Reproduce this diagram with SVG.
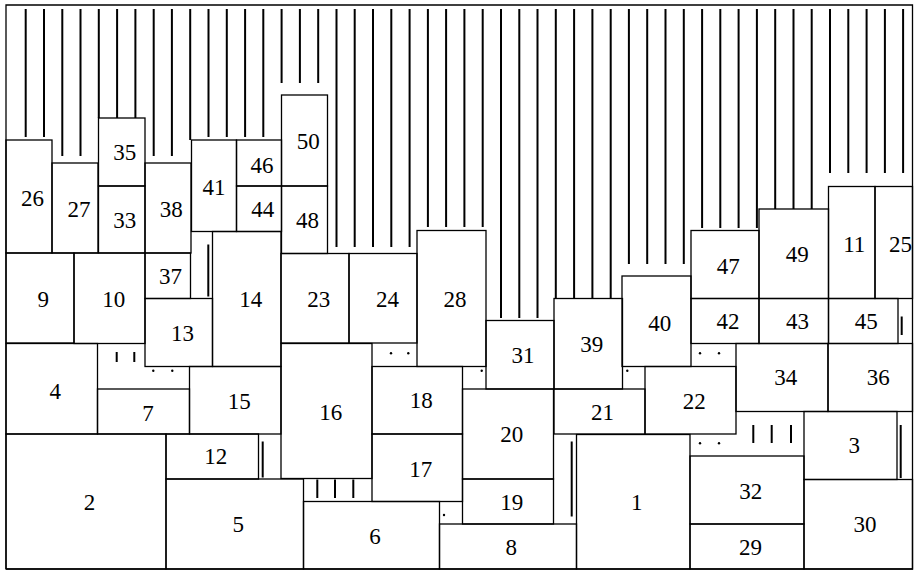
<svg xmlns="http://www.w3.org/2000/svg" width="914" height="572" viewBox="0 0 914 572">
<style>
.b{fill:none;stroke:#000;stroke-width:1.3}
.f{fill:none;stroke:#000;stroke-width:1.3}
.h{stroke:#000;stroke-width:2;fill:none}
.d{fill:#000}
.t{font-family:'Liberation Serif','DejaVu Serif',serif;font-size:23px;text-anchor:middle;fill:#000}
</style>
<rect width="914" height="572" fill="#fff"/>
<g id="frame">
<path class="f" d="M6,569 L6,5 L912.5,5 L912.5,569 L6,569"/>
</g>
<g id="waste">
<path class="h" d="M25.7,9V137M44,9V137M62.3,9V156M80.5,9V156M98.8,9V118M117.1,9V118M135.4,9V118M153.7,9V156M171.9,9V156M190.2,9V140M208.5,9V137M226.8,9V137M245.1,9V137M263.3,9V137M281.6,9V83M299.9,9V83M318.2,9V83M336.5,9V247M354.7,9V247M373,9V247M391.3,9V247M409.6,9V247M427.9,9V227M446.1,9V227M464.4,9V227M482.7,9V227M501,9V318M519.3,9V318M537.5,9V318M555.8,9V298.5M574.1,9V298.5M592.4,9V298.5M610.7,9V298.5M628.9,9V264M647.2,9V264M665.5,9V264M683.8,9V264M702.1,9V228M720.3,9V228M738.6,9V228M756.9,9V228M775.2,9V209M793.5,9V209M811.7,9V209M830,9V173M848.3,9V173M866.6,9V173M884.9,9V173M903.1,9V173"/>
<path class="h" d="M116.7,352V362M134.3,352V362M208.3,244.5V296.5M901.7,316.5V335M262.7,441.5V477.5M317.3,479.5V498M335,479.5V498M353.3,479.5V498M571.7,441.5V516.5M753.3,425V443M771.7,425V443M791,425V443M900.7,425V478"/>
<g class="d">
<circle cx="153.3" cy="370.7" r="1.2"/><circle cx="172.3" cy="370.7" r="1.2"/>
<circle cx="391" cy="353.3" r="1.2"/><circle cx="408.3" cy="353.3" r="1.2"/>
<circle cx="481.7" cy="370.7" r="1.2"/>
<circle cx="627.3" cy="370.7" r="1.2"/>
<circle cx="700" cy="353.3" r="1.2"/><circle cx="719" cy="353.3" r="1.2"/>
<circle cx="444" cy="515" r="1.2"/>
<circle cx="700" cy="443.3" r="1.2"/><circle cx="719" cy="443.3" r="1.2"/>
</g>
</g>
<g id="nodes" class="t">
<g id="n26"><rect class="b" x="6" y="140" width="46" height="113"/><text x="32.5" y="205.7">26</text></g>
<g id="n27"><rect class="b" x="52" y="163" width="46" height="90"/><text x="79" y="217">27</text></g>
<g id="n35"><rect class="b" x="98.5" y="118" width="46.5" height="68"/><text x="124.7" y="160">35</text></g>
<g id="n33"><rect class="b" x="98.5" y="186" width="46.5" height="67"/><text x="124.7" y="228">33</text></g>
<g id="n38"><rect class="b" x="145" y="163" width="46" height="90"/><text x="171.3" y="216.7">38</text></g>
<g id="n41"><rect class="b" x="191.5" y="140" width="45" height="91.5"/><text x="214" y="195">41</text></g>
<g id="n46"><rect class="b" x="236.5" y="140" width="45" height="46"/><text x="262" y="172.7">46</text></g>
<g id="n44"><rect class="b" x="236.5" y="186" width="45" height="45.5"/><text x="262.7" y="216.7">44</text></g>
<g id="n50"><rect class="b" x="281.5" y="95" width="46" height="91"/><text x="308.3" y="149">50</text></g>
<g id="n48"><rect class="b" x="281.5" y="186" width="46" height="67.5"/><text x="307.5" y="228.3">48</text></g>
<g id="n9"><rect class="b" x="6" y="253" width="68" height="90"/><text x="43.3" y="306.7">9</text></g>
<g id="n10"><rect class="b" x="74" y="253" width="71" height="90.5"/><text x="113.8" y="306.7">10</text></g>
<g id="n37"><rect class="b" x="145" y="253" width="45.5" height="45.5"/><text x="170.5" y="284">37</text></g>
<g id="n13"><rect class="b" x="145" y="298.5" width="67.5" height="68"/><text x="182.5" y="340.7">13</text></g>
<g id="n14"><rect class="b" x="212.5" y="231.5" width="68.5" height="135"/><text x="250.8" y="306.7">14</text></g>
<g id="n23"><rect class="b" x="281" y="253.5" width="68" height="89.5"/><text x="318.8" y="306.7">23</text></g>
<g id="n24"><rect class="b" x="349" y="253.5" width="68" height="89.5"/><text x="387.5" y="306.7">24</text></g>
<g id="n28"><rect class="b" x="417" y="230.5" width="69" height="136"/><text x="455" y="306.7">28</text></g>
<g id="n31"><rect class="b" x="486" y="320.5" width="68" height="68.5"/><text x="523" y="363.3">31</text></g>
<g id="n39"><rect class="b" x="554" y="298.5" width="68.5" height="90.5"/><text x="591.7" y="351.7">39</text></g>
<g id="n40"><rect class="b" x="622" y="276" width="69" height="90.5"/><text x="659.8" y="330.7">40</text></g>
<g id="n47"><rect class="b" x="691" y="230.5" width="68" height="68"/><text x="728.3" y="274.3">47</text></g>
<g id="n49"><rect class="b" x="759" y="209" width="69.5" height="89.5"/><text x="797.2" y="262.3">49</text></g>
<g id="n11"><rect class="b" x="828.5" y="186.5" width="46.5" height="112"/><text x="854.3" y="251.7">11</text></g>
<g id="n25"><rect class="b" x="875" y="186.5" width="37.5" height="112"/><text x="900.5" y="252">25</text></g>
<g id="n42"><rect class="b" x="691" y="298.5" width="68" height="45"/><text x="728" y="329">42</text></g>
<g id="n43"><rect class="b" x="759" y="298.5" width="69.5" height="45"/><text x="797.5" y="329">43</text></g>
<g id="n45"><rect class="b" x="828.5" y="298.5" width="69.5" height="45"/><text x="866.2" y="329">45</text></g>
<g id="n34"><rect class="b" x="736" y="343.5" width="92" height="68"/><text x="785.8" y="385">34</text></g>
<g id="n36"><rect class="b" x="828" y="343.5" width="84.5" height="68"/><text x="878.3" y="385">36</text></g>
<g id="n22"><rect class="b" x="645" y="366.5" width="91" height="67.5"/><text x="694.2" y="409">22</text></g>
<g id="n21"><rect class="b" x="554" y="389" width="91" height="45"/><text x="602.5" y="420">21</text></g>
<g id="n20"><rect class="b" x="462.5" y="389" width="91" height="90"/><text x="511.7" y="442.3">20</text></g>
<g id="n19"><rect class="b" x="462.5" y="479" width="91" height="45"/><text x="511.7" y="510">19</text></g>
<g id="n8"><rect class="b" x="439.5" y="524" width="137" height="45"/><text x="511.3" y="555">8</text></g>
<g id="n1"><rect class="b" x="576.5" y="434.5" width="113.5" height="134.5"/><text x="636.7" y="510">1</text></g>
<g id="n32"><rect class="b" x="690" y="456" width="114" height="68"/><text x="750.8" y="499">32</text></g>
<g id="n29"><rect class="b" x="690" y="524" width="114" height="45"/><text x="750.5" y="555">29</text></g>
<g id="n3"><rect class="b" x="804" y="411.5" width="93" height="68"/><text x="854.2" y="453.3">3</text></g>
<g id="n30"><rect class="b" x="804" y="479.5" width="108.5" height="89.5"/><text x="865" y="532.3">30</text></g>
<g id="n18"><rect class="b" x="372" y="366.5" width="90.5" height="67.5"/><text x="421.3" y="408.3">18</text></g>
<g id="n17"><rect class="b" x="372" y="434" width="90.5" height="67.5"/><text x="420.8" y="476.7">17</text></g>
<g id="n16"><rect class="b" x="281" y="343.5" width="91" height="135"/><text x="330.8" y="420">16</text></g>
<g id="n15"><rect class="b" x="189.5" y="366.5" width="91.5" height="67.5"/><text x="239.2" y="409">15</text></g>
<g id="n7"><rect class="b" x="97.5" y="389" width="92" height="45"/><text x="148" y="421">7</text></g>
<g id="n4"><rect class="b" x="6" y="343.5" width="91.5" height="90.5"/><text x="55.3" y="399">4</text></g>
<g id="n2"><rect class="b" x="6" y="434" width="160" height="135"/><text x="89.5" y="510">2</text></g>
<g id="n12"><rect class="b" x="166" y="434" width="92.5" height="45"/><text x="215.8" y="464.3">12</text></g>
<g id="n5"><rect class="b" x="166" y="479" width="137.5" height="90"/><text x="238.3" y="532.3">5</text></g>
<g id="n6"><rect class="b" x="303.5" y="501.5" width="136" height="67.5"/><text x="375" y="544">6</text></g>
</g>
</svg>
